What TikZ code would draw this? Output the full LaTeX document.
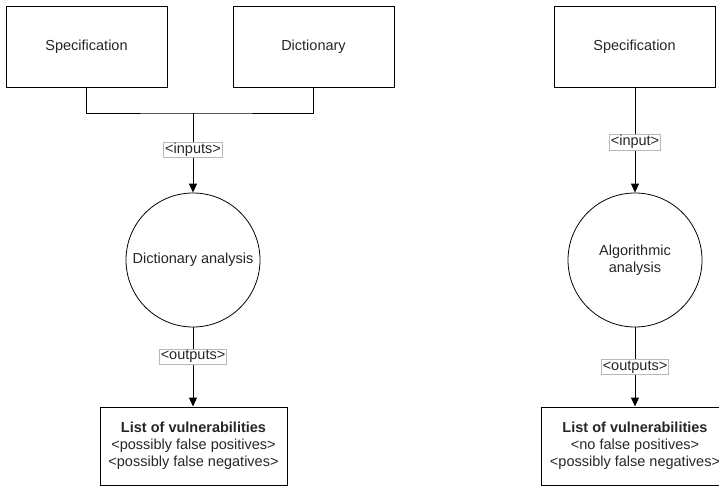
\documentclass[tikz,border=0pt]{standalone}
\usepackage{fontspec}
\setmainfont{Liberation Sans}
\usetikzlibrary{arrows.meta}
\newcommand{\boxfont}{\fontsize{14.5}{17}\selectfont}
\tikzstyle{block}=[draw, line width=1pt, rectangle, inner sep=0, minimum width=161pt, minimum height=80pt, font=\boxfont]
\tikzstyle{process}=[draw, line width=0.8pt, circle, inner sep=0, minimum size=134pt, align=center, font=\boxfont]
\tikzstyle{result}=[draw, line width=1pt, rectangle, inner sep=0, minimum width=187pt, minimum height=78pt, align=center, font=\boxfont]
\tikzstyle{flowlabel}=[draw=black!28, line width=0.6pt, fill=white, inner xsep=1.5pt, inner ysep=1pt, font=\boxfont]
\tikzstyle{flow}=[line width=1pt, -{Triangle[width=8pt, length=9pt]}]
\tikzstyle{diagram}=[x=1pt, y=-1pt, text=black!85]

\begin{document}
\begin{tikzpicture}[diagram]
        \useasboundingbox (0, 0) rectangle (719, 487);
        % dictionary based
        \node[block]   (S1) at (86.5, 47) {Specification};
        \node[block]   (D1) at (313.5, 47) {Dictionary};
        \coordinate    (J1) at (193, 113);
        \node[process] (P1) at (193, 260) {Dictionary analysis};
        \node[result]  (R1) at (193.5, 446) {\textbf{List of vulnerabilities}\\<possibly false positives>\\<possibly false negatives>};
        \draw[line width=1pt] (S1.south) |- (J1) -| (D1.south);
        \draw[flow] (J1) -- node[flowlabel, pos=0.46] {<inputs>} (P1.north);
        \draw[flow] (P1.south) -- node[flowlabel, pos=0.37] {<outputs>} (R1.north -| P1.south);
        % algorithmic
        \node[block]   (S2) at (634.5, 47) {Specification};
        \node[process] (P2) at (635, 260) {Algorithmic\\analysis};
        \node[result]  (R2) at (635, 446) {\textbf{List of vulnerabilities}\\<no false positives>\\<possibly false negatives>};
        \draw[flow] (S2.south -| P2.north) -- node[flowlabel, pos=0.52] {<input>} (P2.north);
        \draw[flow] (P2.south) -- node[flowlabel, pos=0.5] {<outputs>} (R2.north -| P2.south);
    \end{tikzpicture}
\end{document}
